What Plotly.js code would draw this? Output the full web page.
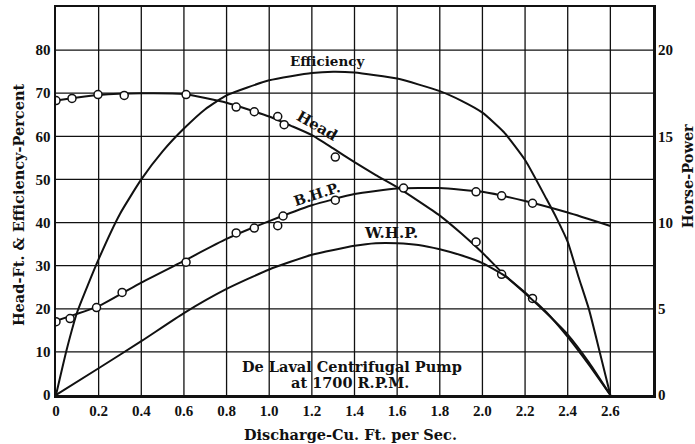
<!DOCTYPE html>
<html>
<head>
<meta charset="utf-8">
<script src="https://cdn.plot.ly/plotly-3.0.1.min.js"></script>
<style>html,body{margin:0;padding:0;background:#fff;}#chart{width:695px;height:444px;}</style>
</head>
<body>
<div id="chart"></div>
<script>
// ---- Data ----
// Head (ft) - fitted curve
const headX = [0, 0.1, 0.2, 0.4, 0.6, 0.8, 1.0, 1.1, 1.2, 1.3, 1.4, 1.5, 1.6, 1.8, 1.9, 2.0, 2.1, 2.2, 2.3, 2.4, 2.5, 2.6];
const headY = [68.3, 69.0, 69.6, 70.0, 69.8, 67.8, 64.6, 62.5, 60.3, 57.2, 54.0, 51.0, 48.2, 41.6, 37.5, 33.0, 28.0, 23.8, 19.2, 13.5, 7.0, 0];
// Head - observed points
const headPtX = [0, 0.075, 0.197, 0.32, 0.61, 0.845, 0.93, 1.04, 1.07, 1.31, 1.97, 2.09, 2.235];
const headPtY = [68.3, 68.8, 69.7, 69.5, 69.7, 66.8, 65.7, 64.6, 62.7, 55.2, 35.5, 28.0, 22.4];
// Efficiency (percent)
const effX = [0, 0.05, 0.1, 0.2, 0.3, 0.4, 0.5, 0.6, 0.7, 0.8, 1.0, 1.2, 1.3, 1.4, 1.6, 1.8, 1.9, 2.0, 2.1, 2.2, 2.3, 2.35, 2.4, 2.45, 2.5, 2.55, 2.6];
const effY = [0, 10.5, 19.3, 31.5, 42, 50, 56.5, 61.8, 66.3, 69.5, 73, 74.7, 75, 74.8, 73.4, 70.5, 68.3, 65.5, 61, 54.5, 45.5, 40.8, 35.5, 27.5, 19.8, 10, 0];
// Brake horse-power (HP) - fitted curve
const bhpX = [0, 0.2, 0.4, 0.6, 0.8, 1.0, 1.2, 1.4, 1.6, 1.8, 2.0, 2.2, 2.4, 2.6];
const bhpY = [4.3, 5.15, 6.52, 7.78, 9.05, 10.08, 11.0, 11.65, 11.97, 12.0, 11.78, 11.25, 10.58, 9.8];
// B.H.P. - observed points
const bhpPtX = [0, 0.066, 0.19, 0.31, 0.61, 0.845, 0.93, 1.04, 1.065, 1.31, 1.63, 1.97, 2.09, 2.235];
const bhpPtY = [4.25, 4.43, 5.07, 5.95, 7.7, 9.4, 9.68, 9.82, 10.38, 11.3, 12.0, 11.78, 11.55, 11.12];
// Water horse-power (HP)
const whpX = [0, 0.2, 0.4, 0.6, 0.8, 1.0, 1.2, 1.4, 1.5, 1.6, 1.7, 1.8, 1.9, 2.0, 2.1, 2.2, 2.3, 2.4, 2.5, 2.6];
const whpY = [0, 1.55, 3.12, 4.75, 6.15, 7.28, 8.13, 8.65, 8.8, 8.8, 8.7, 8.45, 8.1, 7.65, 6.95, 5.9, 4.75, 3.5, 1.88, 0];
// Tick labels
const xTickVals = [0, 0.2, 0.4, 0.6, 0.8, 1.0, 1.2, 1.4, 1.6, 1.8, 2.0, 2.2, 2.4, 2.6];
const xTickText = ["0", "0.2", "0.4", "0.6", "0.8", "1.0", "1.2", "1.4", "1.6", "1.8", "2.0", "2.2", "2.4", "2.6"];
const yTickVals = [0, 10, 20, 30, 40, 50, 60, 70, 80];
const y2TickVals = [0, 5, 10, 15, 20];

const TICKFAM = "Liberation Serif, DejaVu Serif, serif";
const FONT = "DejaVu Serif, Liberation Serif, serif";
const INK = "#111";
const lineStyle = {color: INK, width: 2, shape: "spline", smoothing: 0.5};
const markerStyle = {symbol: "circle", size: 8, color: "#fff", line: {color: INK, width: 1.5}};

const traces = [
  {x: effX, y: effY, mode: "lines", line: lineStyle, hoverinfo: "skip"},
  {x: headX, y: headY, mode: "lines", line: lineStyle, hoverinfo: "skip"},
  {x: whpX, y: whpY, yaxis: "y2", mode: "lines", line: lineStyle, hoverinfo: "skip"},
  {x: bhpX, y: bhpY, yaxis: "y2", mode: "lines", line: lineStyle, hoverinfo: "skip"},
  {x: headPtX, y: headPtY, mode: "markers", marker: markerStyle, hoverinfo: "skip"},
  {x: bhpPtX, y: bhpPtY, yaxis: "y2", mode: "markers", marker: markerStyle, hoverinfo: "skip"}
];

const tickFont = {family: TICKFAM, size: 15, color: INK, weight: 700};
const f = (s) => ({family: FONT, size: s, color: INK, weight: 700});

const layout = {
  width: 695, height: 444,
  margin: {l: 56, r: 42, t: 7, b: 49},
  paper_bgcolor: "#fff", plot_bgcolor: "#fff",
  showlegend: false,
  xaxis: {
    range: [0, 2.8], tickvals: xTickVals, ticktext: xTickText,
    showgrid: false, zeroline: false, ticks: "", ticklen: 0,
    showline: true, linecolor: INK, linewidth: 2.5, mirror: true,
    tickfont: tickFont, fixedrange: true
  },
  yaxis: {
    range: [0, 90], tickvals: yTickVals, showgrid: false, zeroline: false,
    ticks: "", showline: true, linecolor: INK, linewidth: 2.5, mirror: true,
    tickfont: tickFont, fixedrange: true
  },
  yaxis2: {
    range: [0, 22.5], tickvals: y2TickVals, overlaying: "y", side: "right",
    showgrid: false, zeroline: false, ticks: "", showline: false,
    tickfont: tickFont, ticklabelstandoff: 4, fixedrange: true
  },
  shapes: [],
  annotations: [
    {text: "Efficiency", x: 1.272, y: 77.4, xref: "x", yref: "y", showarrow: false, font: f(13.5)},
    {text: "Head", x: 1.225, y: 62.4, xref: "x", yref: "y", showarrow: false, textangle: 30, font: f(15)},
    {text: "B.H.P.", x: 1.225, y: 46.6, xref: "x", yref: "y", showarrow: false, textangle: -18, font: f(14)},
    {text: "W.H.P.", x: 1.57, y: 37.6, xref: "x", yref: "y", showarrow: false, font: f(15)},
    {text: "De Laval Centrifugal Pump", x: 1.39, y: 6.7, xref: "x", yref: "y", showarrow: false, font: f(14.5)},
    {text: "at 1700 R.P.M.", x: 1.38, y: 2.8, xref: "x", yref: "y", showarrow: false, font: f(14.5)},
    {text: "Discharge-Cu. Ft. per Sec.", x: 0.4925, y: -0.103, xref: "paper", yref: "paper", showarrow: false, xanchor: "center", yanchor: "middle", font: f(14.5)},
    {text: "Head-Ft. & Efficiency-Percent", x: -0.0637, y: 0.492, xref: "paper", yref: "paper", showarrow: false, textangle: -90, xanchor: "center", yanchor: "middle", font: f(14.5)},
    {text: "Horse-Power", x: 1.057, y: 0.564, xref: "paper", yref: "paper", showarrow: false, textangle: -90, xanchor: "center", yanchor: "middle", font: f(14.5)}
  ]
};

// grid lines through the axis scale (every 0.2 in x, every 10 in y)
for (let i = 1; i < 14; i++) {
  layout.shapes.push({type: "line", xref: "x", yref: "paper", x0: i * 0.2, x1: i * 0.2, y0: 0, y1: 1, line: {color: INK, width: 1.3}, layer: "below"});
}
for (let j = 1; j < 9; j++) {
  layout.shapes.push({type: "line", xref: "paper", yref: "y", x0: 0, x1: 1, y0: j * 10, y1: j * 10, line: {color: INK, width: 1.3}, layer: "below"});
}

Plotly.newPlot("chart", traces, layout, {displayModeBar: false, staticPlot: true});
</script>
</body>
</html>
